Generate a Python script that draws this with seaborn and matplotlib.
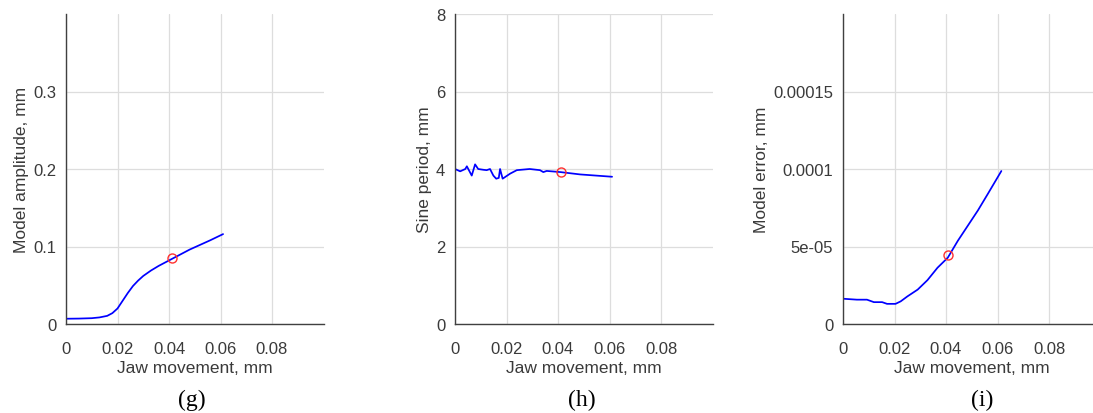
import numpy as np
import pandas as pd
import seaborn as sns
import matplotlib
matplotlib.use("Agg")
import matplotlib.pyplot as plt

# panel (g): model amplitude
amp_x = [0, 0.005, 0.010, 0.013, 0.016, 0.018, 0.020, 0.022, 0.024, 0.026,
         0.028, 0.030, 0.033, 0.036, 0.040, 0.044, 0.048, 0.052, 0.056, 0.061]
amp_y = [0.0068, 0.0070, 0.0075, 0.0085, 0.0105, 0.014, 0.020, 0.030, 0.040, 0.049,
         0.056, 0.062, 0.069, 0.075, 0.082, 0.089, 0.096, 0.102, 0.108, 0.116]
amp_pt = (0.041, 0.085)

# panel (h): sine period
per_x = [0, 0.002, 0.004, 0.0046, 0.0065, 0.0078, 0.009, 0.011, 0.0123, 0.0136,
         0.0149, 0.016, 0.017, 0.0175, 0.0185, 0.0214, 0.024, 0.029, 0.033, 0.0343,
         0.0356, 0.041, 0.0486, 0.061]
per_y = [4.0, 3.94, 4.0, 4.07, 3.83, 4.12, 4.0, 3.98, 3.97, 4.0,
         3.83, 3.75, 3.77, 4.0, 3.75, 3.88, 3.97, 4.0, 3.97, 3.92,
         3.95, 3.92, 3.86, 3.80]
per_pt = (0.041, 3.92)

# panel (i): model error
err_x = [0, 0.0054, 0.0093, 0.012, 0.0152, 0.0171, 0.0204, 0.0224, 0.025, 0.029,
         0.0328, 0.0367, 0.0407, 0.0446, 0.0485, 0.0524, 0.0563, 0.0615]
err_y = [1.63e-5, 1.57e-5, 1.57e-5, 1.41e-5, 1.41e-5, 1.30e-5, 1.30e-5, 1.46e-5, 1.78e-5, 2.22e-5,
         2.83e-5, 3.63e-5, 4.28e-5, 5.37e-5, 6.35e-5, 7.33e-5, 8.41e-5, 9.87e-5]
err_pt = (0.0408, 4.44e-5)

x_ticks = [0, 0.02, 0.04, 0.06, 0.08]
x_ticklabels = ["0", "0.02", "0.04", "0.06", "0.08"]

panels = [
    dict(x=amp_x, y=amp_y, pt=amp_pt, ylabel="Model amplitude, mm", ylim=(0, 0.4),
         yticks=[0, 0.1, 0.2, 0.3], yticklabels=["0", "0.1", "0.2", "0.3"], tag="(g)"),
    dict(x=per_x, y=per_y, pt=per_pt, ylabel="Sine period, mm", ylim=(0, 8),
         yticks=[0, 2, 4, 6, 8], yticklabels=["0", "2", "4", "6", "8"], tag="(h)"),
    dict(x=err_x, y=err_y, pt=err_pt, ylabel="Model error, mm", ylim=(0, 0.0002),
         yticks=[0, 5e-5, 1e-4, 1.5e-4], yticklabels=["0", "5e-05", "0.0001", "0.00015"], tag="(i)"),
]

sns.set_style("white")
plt.rcParams['font.family'] = ['Liberation Sans', 'DejaVu Sans']

txt = "#3a3a3a"
fig = plt.figure(figsize=(10.93, 4.14), dpi=100)
lefts = [66, 455, 843]
tag_x = [192, 582, 982]

for p, left, tx in zip(panels, lefts, tag_x):
    ax = fig.add_axes([left / 1093, 89 / 414, 257.5 / 1093, 310 / 414])
    df = pd.DataFrame({"x": p["x"], "y": p["y"]})
    sns.lineplot(data=df, x="x", y="y", ax=ax, color="#0000ff", linewidth=1.25)
    ax.plot([p["pt"][0]], [p["pt"][1]], marker="o", markersize=6.5, markerfacecolor="none",
            markeredgecolor="#ff3030", markeredgewidth=1.0, linestyle="none")
    ax.set_xlim(0, 0.1)
    ax.set_ylim(*p["ylim"])
    ax.set_xticks(x_ticks)
    ax.set_xticklabels(x_ticklabels)
    ax.set_yticks(p["yticks"])
    ax.set_yticklabels(p["yticklabels"])
    ax.grid(True, color="#dddddd", linewidth=0.9)
    ax.set_axisbelow(True)
    for s in ["top", "right"]:
        ax.spines[s].set_visible(False)
    for s in ["left", "bottom"]:
        ax.spines[s].set_color("#404040")
        ax.spines[s].set_linewidth(1.0)
    ax.tick_params(direction="in", length=3, width=0.8, color="#404040",
                   labelsize=12, labelcolor=txt)
    ax.tick_params(axis="x", pad=12)
    ax.tick_params(axis="y", pad=7)
    ax.set_xlabel("Jaw movement, mm", fontsize=12.5, color=txt, labelpad=3)
    ax.set_ylabel(p["ylabel"], fontsize=12.5, color=txt, labelpad=3)
    fig.text(tx / 1093, 14 / 414, p["tag"], ha="center", va="center",
             family="Liberation Serif", fontsize=17, color="black")

fig.savefig("out.png", dpi=100)
